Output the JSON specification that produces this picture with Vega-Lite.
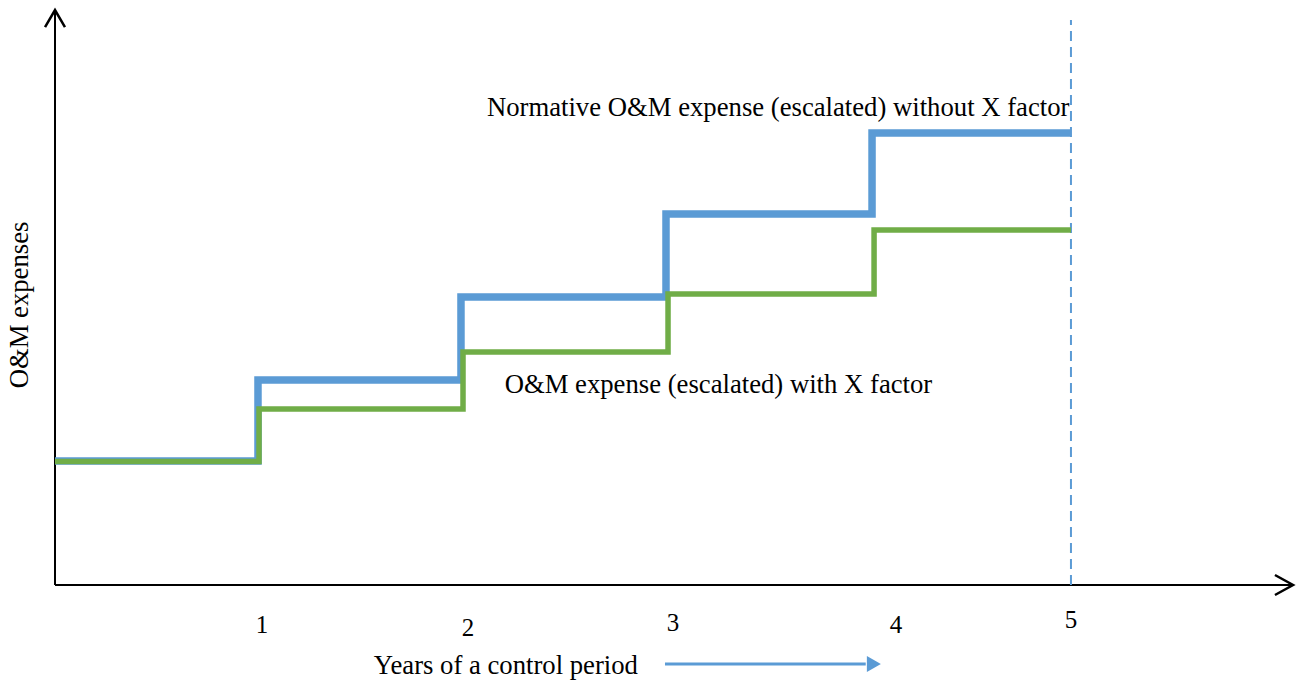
{
  "$schema": "https://vega.github.io/schema/vega-lite/v6.json",
  "autosize": "none",
  "width": 1235,
  "height": 575,
  "padding": {"left": 55, "top": 10, "right": 11, "bottom": 97},
  "background": "white",
  "config": {"view": {"stroke": null}, "font": "Liberation Serif", "text": {"font": "Liberation Serif"}},
  "datasets": {
    "steps": [
      {"series": "without", "x": 0, "y": 21.57},
      {"series": "without", "x": 0.999, "y": 35.65},
      {"series": "without", "x": 1.998, "y": 50.09},
      {"series": "without", "x": 3.007, "y": 64.52},
      {"series": "without", "x": 4.021, "y": 78.61},
      {"series": "without", "x": 5.0, "y": 78.61},
      {"series": "with", "x": 0, "y": 21.48},
      {"series": "with", "x": 1.004, "y": 30.61},
      {"series": "with", "x": 2.008, "y": 40.52},
      {"series": "with", "x": 3.017, "y": 50.61},
      {"series": "with", "x": 4.031, "y": 61.74},
      {"series": "with", "x": 5.0, "y": 61.74}
    ],
    "ticks": [
      {"label": "1", "x": 1.019, "y": -6.96},
      {"label": "2", "x": 2.032, "y": -7.48},
      {"label": "3", "x": 3.041, "y": -6.6},
      {"label": "4", "x": 4.139, "y": -6.96},
      {"label": "5", "x": 5.0, "y": -6.09}
    ]
  },
  "encoding": {},
  "layer": [
    {
      "data": {"values": [{"x": 0, "x2": 6.09, "y": 0, "y2": 0}]},
      "mark": {"type": "rule", "color": "black", "strokeWidth": 2},
      "encoding": {
        "x": {"field": "x", "type": "quantitative", "scale": {"domain": [0, 6.078], "nice": false, "zero": false}, "axis": null},
        "x2": {"field": "x2"},
        "y": {"field": "y", "type": "quantitative", "scale": {"domain": [0, 100], "nice": false}, "axis": null}
      }
    },
    {
      "data": {"values": [{"x": 0, "y": 0, "y2": 99.8}]},
      "mark": {"type": "rule", "color": "black", "strokeWidth": 2},
      "encoding": {
        "x": {"field": "x", "type": "quantitative"},
        "y": {"field": "y", "type": "quantitative"},
        "y2": {"field": "y2"}
      }
    },
    {
      "data": {"values": [
        {"a": "y", "o": 1, "x": -0.049, "y": 97.04},
        {"a": "y", "o": 2, "x": 0, "y": 100},
        {"a": "y", "o": 3, "x": 0.049, "y": 97.04},
        {"a": "x", "o": 1, "x": 6.004, "y": 1.74},
        {"a": "x", "o": 2, "x": 6.093, "y": 0},
        {"a": "x", "o": 3, "x": 6.004, "y": -1.74}
      ]},
      "mark": {"type": "line", "color": "black", "strokeWidth": 2.5, "strokeJoin": "miter"},
      "encoding": {
        "x": {"field": "x", "type": "quantitative"},
        "y": {"field": "y", "type": "quantitative"},
        "detail": {"field": "a"},
        "order": {"field": "o"}
      }
    },
    {
      "data": {"values": [{"x": 5.0, "y": 0, "y2": 98.26}]},
      "mark": {"type": "rule", "color": "#5B9BD5", "strokeWidth": 2, "strokeDash": [10, 6]},
      "encoding": {
        "x": {"field": "x", "type": "quantitative"},
        "y": {"field": "y", "type": "quantitative"},
        "y2": {"field": "y2"}
      }
    },
    {
      "data": {"name": "steps"},
      "transform": [{"filter": "datum.series === 'without'"}],
      "mark": {"type": "line", "interpolate": "step-after", "color": "#5B9BD5", "strokeWidth": 7.5, "strokeCap": "butt", "strokeJoin": "miter"},
      "encoding": {
        "x": {"field": "x", "type": "quantitative"},
        "y": {"field": "y", "type": "quantitative"}
      }
    },
    {
      "data": {"name": "steps"},
      "transform": [{"filter": "datum.series === 'with'"}],
      "mark": {"type": "line", "interpolate": "step-after", "color": "#70AD47", "strokeWidth": 5.5, "strokeCap": "butt", "strokeJoin": "miter"},
      "encoding": {
        "x": {"field": "x", "type": "quantitative"},
        "y": {"field": "y", "type": "quantitative"}
      }
    },
    {
      "data": {"name": "ticks"},
      "mark": {"type": "text", "font": "Liberation Serif", "fontSize": 25, "color": "black", "align": "center", "baseline": "middle"},
      "encoding": {
        "x": {"field": "x", "type": "quantitative"},
        "y": {"field": "y", "type": "quantitative"},
        "text": {"field": "label"}
      }
    },
    {
      "data": {"values": [
        {"t": "Normative O&M expense (escalated) without X factor", "x": 3.559, "y": 82.96},
        {"t": "O&M expense (escalated) with X factor", "x": 3.265, "y": 34.78},
        {"t": "Years of a control period", "x": 2.219, "y": -14.09}
      ]},
      "mark": {"type": "text", "font": "Liberation Serif", "fontSize": 26.7, "color": "black", "align": "center", "baseline": "middle"},
      "encoding": {
        "x": {"field": "x", "type": "quantitative"},
        "y": {"field": "y", "type": "quantitative"},
        "text": {"field": "t"}
      }
    },
    {
      "data": {"values": [{"t": "O&M expenses", "x": -0.172, "y": 48.7}]},
      "mark": {"type": "text", "font": "Liberation Serif", "fontSize": 26.7, "color": "black", "align": "center", "baseline": "middle", "angle": 270},
      "encoding": {
        "x": {"field": "x", "type": "quantitative"},
        "y": {"field": "y", "type": "quantitative"},
        "text": {"field": "t"}
      }
    },
    {
      "data": {"values": [{"x": 3.002, "x2": 3.99, "y": -13.74}]},
      "mark": {"type": "rule", "color": "#5B9BD5", "strokeWidth": 3},
      "encoding": {
        "x": {"field": "x", "type": "quantitative"},
        "x2": {"field": "x2"},
        "y": {"field": "y", "type": "quantitative"}
      }
    },
    {
      "data": {"values": [{"x": 4.03, "y": -13.74}]},
      "mark": {"type": "point", "shape": "triangle-right", "filled": true, "color": "#5B9BD5", "opacity": 1, "size": 260},
      "encoding": {
        "x": {"field": "x", "type": "quantitative"},
        "y": {"field": "y", "type": "quantitative"}
      }
    }
  ]
}
